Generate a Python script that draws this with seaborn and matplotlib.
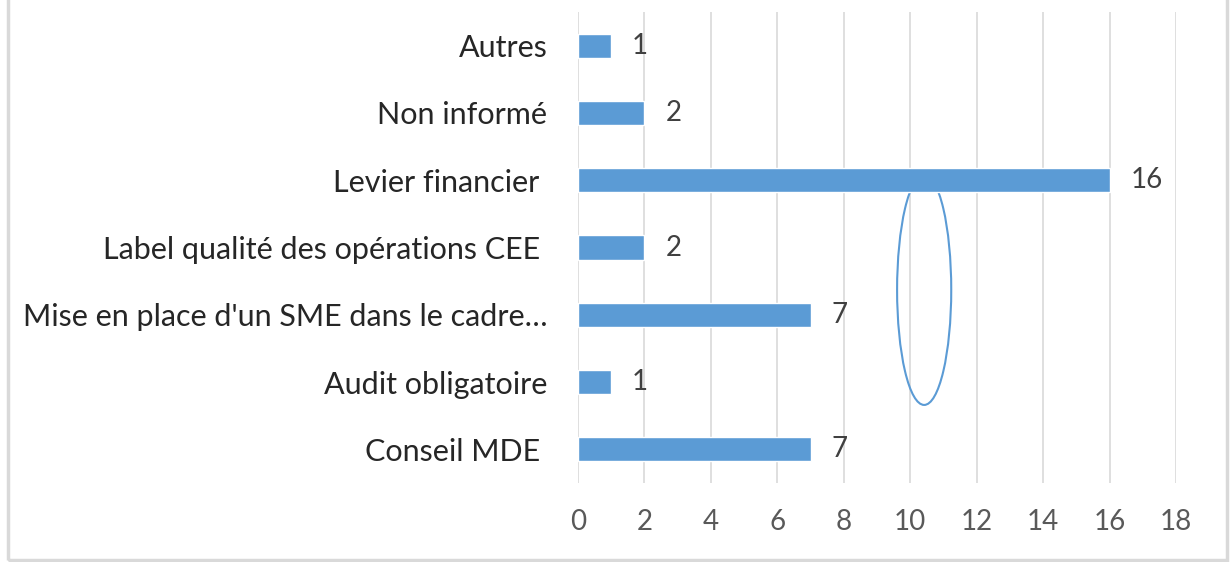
import numpy as np
import pandas as pd
import seaborn as sns
import matplotlib.pyplot as plt
from matplotlib.patches import Ellipse, Rectangle

categories = ["Autres", "Non informé", "Levier financier ", "Label qualité des opérations CEE ",
              "Mise en place d'un SME dans le cadre…", "Audit obligatoire", "Conseil MDE "]
values = [1, 2, 16, 2, 7, 1, 7]
xticks = [0, 2, 4, 6, 8, 10, 12, 14, 16, 18]

df = pd.DataFrame({"categorie": categories, "nombre": values})

sns.set_style("white")
plt.rcParams['font.family'] = ['Lato', 'DejaVu Sans']

fig = plt.figure(figsize=(12.3, 5.62), dpi=100)
ax = fig.add_axes([0.4699, 0.1406, 0.4862, 0.838])

sns.barplot(data=df, y="categorie", x="nombre", orient="h", color="#5b9bd5",
            width=0.36, saturation=1, ax=ax, zorder=3)

# highlight ellipse drawn behind the bars
ax.add_patch(Ellipse((10.42, 3.63), 1.63, 3.42, fill=False, edgecolor="#5b9bd5",
                     linewidth=1.5, zorder=2))

ax.bar_label(ax.containers[0], padding=15, fontsize=20, color="#404040")

ax.set_xlim(0, 18)
ax.set_ylim(6.5, -0.5)
ax.set_xticks(xticks)
ax.xaxis.grid(True, color="#d9d9d9", linewidth=1.2, zorder=0)
ax.set_axisbelow(True)
for s in ax.spines.values():
    s.set_visible(False)
ax.tick_params(axis="x", length=0, pad=19, labelsize=20, labelcolor="#595959")
ax.tick_params(axis="y", length=0, pad=22, labelsize=22, labelcolor="#262626")
ax.set_xlabel("")
ax.set_ylabel("")

# outer chart frame
fig.patches.append(Rectangle((8 / 1230, 2 / 562), 1219 / 1230, 1.1, transform=fig.transFigure,
                             fill=False, edgecolor="#d9d9d9", linewidth=2.5))

fig.savefig("out.png", dpi=100)
